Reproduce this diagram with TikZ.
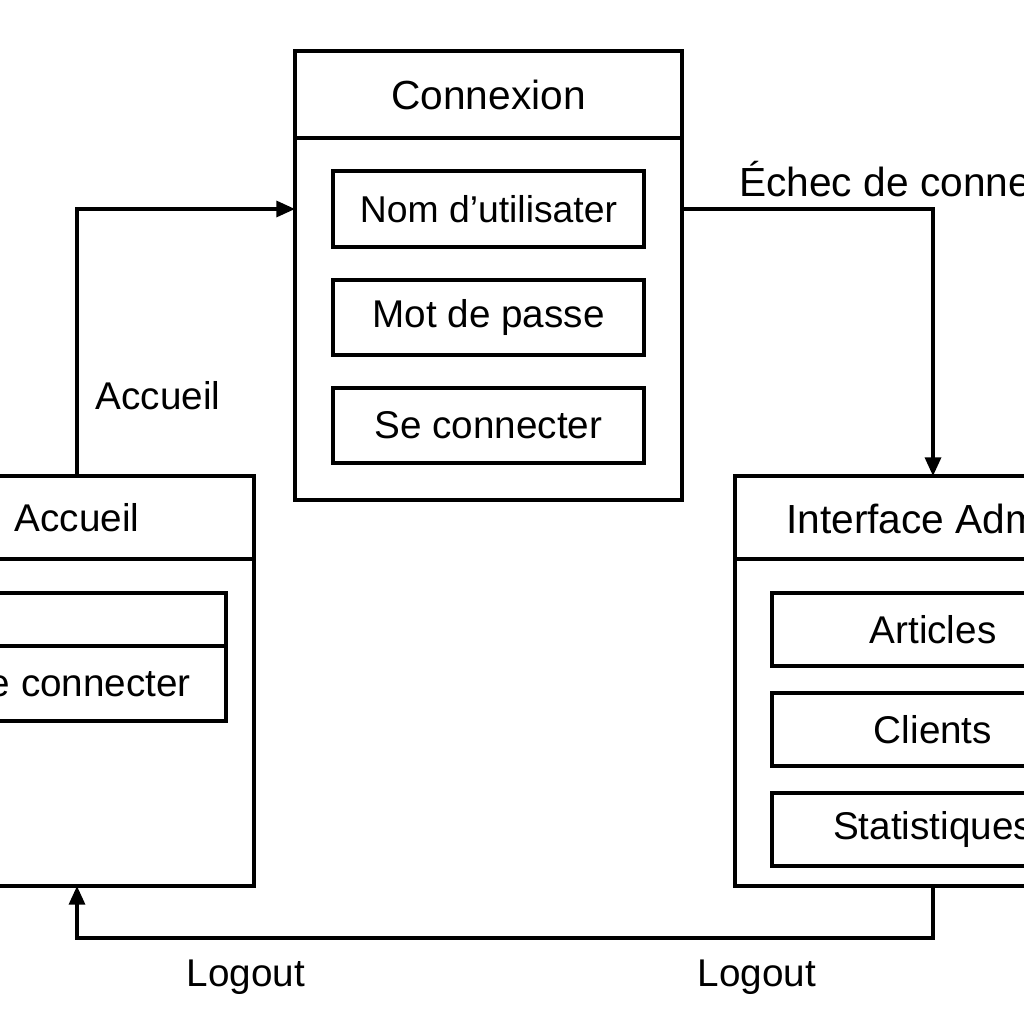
\documentclass[tikz,border=0pt]{standalone}
\usepackage{fontspec}
\setmainfont{Liberation Sans}
\usetikzlibrary{arrows.meta}
\begin{document}
\begin{tikzpicture}[x=0.75pt,y=-0.75pt,
  box/.style={draw, line width=2.5pt, inner sep=0pt, outer sep=0pt, align=center,
    font=\fontsize{29}{34}\selectfont},
  lbl/.style={font=\fontsize{29}{34}\selectfont, inner sep=0pt},
  conn/.style={line width=2.5pt},
  arr/.style={conn, -{Triangle[length=14pt,width=12pt]}}]
\useasboundingbox (0,0) rectangle (1024,1024);
\clip (0,0) rectangle (1024,1024);
\fill[white] (0,0) rectangle (1024,1024);
% Connexion
\node[box, minimum width=290.25pt, minimum height=65.25pt, font=\fontsize{30.5}{34}\selectfont] (conh) at (488.5,94.5) {Connexion};
\node[box, minimum width=290.25pt, minimum height=271.5pt] (conb) at (488.5,319) {};
\node[box, minimum width=233.25pt, minimum height=57pt, font=\fontsize{28}{34}\selectfont] (nom) at (488.5,209) {Nom d’utilisater};
\node[box, minimum width=233.25pt, minimum height=56.25pt] (mdp) at (488.5,317.5) {Mot de passe};
\node[box, minimum width=233.25pt, minimum height=56.25pt] (sec) at (488.5,425.5) {Se connecter};
% Accueil
\node[box, minimum width=265.5pt, minimum height=62.25pt] (acch) at (77,517.5) {Accueil};
\node[box, minimum width=265.5pt, minimum height=245.25pt] (accb) at (77,722.5) {};
\node[box, minimum width=223.5pt, minimum height=39.75pt] (acc1) at (77,619.5) {};
\node[box, minimum width=223.5pt, minimum height=56.25pt] (acc2) at (77,683.5) {Se connecter};
% Interface Admin
\node[box, minimum width=297pt, minimum height=62.25pt] (admh) at (933,517.5) {};
\node[lbl, anchor=west, font=\fontsize{30.5}{34}\selectfont] (admt) at (786,519) {Interface Admin};
\node[box, minimum width=297pt, minimum height=245.25pt] (admb) at (933,722.5) {};
\node[box, minimum width=241.5pt, minimum height=54.75pt] (art) at (933,629.5) {Articles};
\node[box, minimum width=241.5pt, minimum height=54.75pt] (cli) at (933,729.5) {Clients};
\node[box, minimum width=241.5pt, minimum height=54.75pt] (sta) at (933,829.5) {Statistiques};
% connectors
\draw[arr] (acch.north) |- (nom -| conb.west);
\draw[arr] (nom -| conb.east) -| (admh.north);
\coordinate (lo) at (933,938);
\draw[arr] (admb.south) -- (lo) -| (accb.south);
% labels
\node[lbl] (laccueil) at (158,396) {Accueil};
\node[lbl, anchor=west, font=\fontsize{30.5}{34}\selectfont] (lechec) at (739,179) {Échec de connexion};
\node[lbl] (llog1) at (246,977) {Logout};
\node[lbl] (llog2) at (757,977) {Logout};
\end{tikzpicture}
\end{document}
